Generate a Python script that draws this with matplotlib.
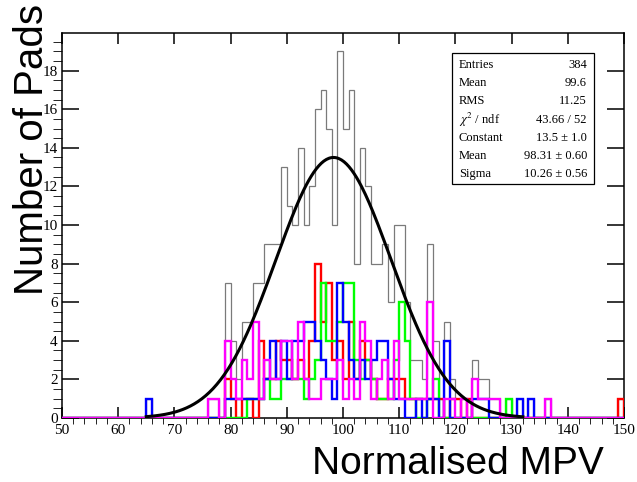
"""
Normalised MPV distribution per pad, all pads plus the four pad groups,
with the gaussian fit and a ROOT style stats box.
"""
import numpy as np
import matplotlib
matplotlib.use('Agg')
import matplotlib.pyplot as plt
from matplotlib.patches import Rectangle
from matplotlib.ticker import MultipleLocator

# unit bins, lower edges 50 .. 149
bin_lo, bin_hi = 50, 150

n_all = [0, 0, 0, 0, 0, 0, 0, 0, 0, 0,
         0, 0, 0, 0, 0, 1, 0, 0, 0, 0,
         0, 0, 0, 0, 0, 0, 1, 1, 0, 7,
         4, 2, 5, 5, 7, 7, 9, 9, 9, 13,
         11, 10, 14, 10, 12, 16, 17, 15, 10, 19,
         15, 17, 8, 14, 12, 8, 8, 9, 6, 10,
         10, 6, 3, 3, 2, 9, 4, 1, 5, 2,
         1, 1, 1, 3, 2, 2, 1, 1, 0, 1,
         0, 1, 0, 1, 0, 0, 1, 0, 0, 0,
         0, 0, 0, 0, 0, 0, 0, 0, 0, 1]

n_red = [0, 0, 0, 0, 0, 0, 0, 0, 0, 0,
         0, 0, 0, 0, 0, 0, 0, 0, 0, 0,
         0, 0, 0, 0, 0, 0, 0, 0, 0, 2,
         1, 0, 1, 1, 0, 4, 2, 2, 4, 3,
         3, 2, 3, 2, 4, 8, 5, 7, 3, 4,
         2, 5, 2, 4, 3, 2, 1, 1, 2, 2,
         2, 1, 1, 1, 1, 1, 1, 1, 0, 1,
         1, 0, 1, 0, 0, 0, 0, 0, 0, 0,
         0, 0, 0, 0, 0, 0, 0, 0, 0, 0,
         0, 0, 0, 0, 0, 0, 0, 0, 0, 1]

n_green = [0, 0, 0, 0, 0, 0, 0, 0, 0, 0,
           0, 0, 0, 0, 0, 0, 0, 0, 0, 0,
           0, 0, 0, 0, 0, 0, 0, 0, 0, 0,
           0, 0, 0, 1, 1, 1, 2, 1, 1, 2,
           2, 2, 2, 1, 2, 3, 7, 4, 4, 5,
           7, 7, 3, 2, 3, 2, 1, 1, 1, 3,
           6, 4, 1, 0, 0, 1, 2, 0, 0, 0,
           0, 0, 0, 0, 0, 0, 0, 0, 0, 1,
           0, 0, 0, 0, 0, 0, 0, 0, 0, 0,
           0, 0, 0, 0, 0, 0, 0, 0, 0, 0]

n_blue = [0, 0, 0, 0, 0, 0, 0, 0, 0, 0,
          0, 0, 0, 0, 0, 1, 0, 0, 0, 0,
          0, 0, 0, 0, 0, 0, 0, 0, 0, 1,
          1, 1, 1, 1, 1, 1, 2, 4, 2, 4,
          2, 4, 4, 5, 5, 4, 3, 2, 1, 7,
          5, 3, 2, 3, 2, 3, 4, 4, 2, 1,
          1, 0, 0, 1, 0, 1, 1, 0, 4, 0,
          0, 0, 0, 1, 1, 1, 0, 0, 0, 0,
          0, 1, 0, 1, 0, 0, 0, 0, 0, 0,
          0, 0, 0, 0, 0, 0, 0, 0, 0, 0]

n_magenta = [0, 0, 0, 0, 0, 0, 0, 0, 0, 0,
             0, 0, 0, 0, 0, 0, 0, 0, 0, 0,
             0, 0, 0, 0, 0, 0, 1, 1, 0, 4,
             2, 1, 3, 2, 5, 1, 3, 2, 2, 4,
             4, 2, 5, 2, 1, 1, 2, 2, 2, 3,
             1, 2, 1, 5, 4, 1, 2, 3, 1, 4,
             1, 1, 1, 1, 1, 6, 0, 0, 1, 1,
             0, 1, 0, 2, 1, 1, 1, 1, 0, 0,
             0, 0, 0, 0, 0, 0, 1, 0, 0, 0,
             0, 0, 0, 0, 0, 0, 0, 0, 0, 0]

# fit result and stats box rows, as printed on the plot
fit_const, fit_mean, fit_sigma = 13.5, 98.31, 10.26
fit_range = (65, 132)
stats_rows = [('Entries', '384'),
              ('Mean', '99.6'),
              ('RMS', '11.25'),
              (r'$\chi^2$ / ndf', '43.66 / 52'),
              ('Constant', '13.5 \u00b1 1.0'),
              ('Mean', '98.31 \u00b1 0.60'),
              ('Sigma', '10.26 \u00b1 0.56')]

W, H = 637, 482
SERIF = ['Liberation Serif', 'DejaVu Serif']
SANS = ['Liberation Sans', 'DejaVu Sans']


def fx(px):
    return px / W


def fy(py):
    return 1 - py / H


def main():
    plt.rcParams['mathtext.fontset'] = 'stix'
    fig = plt.figure(figsize=(W / 100, H / 100), dpi=100)
    ax = fig.add_axes([fx(62), fy(418), fx(624) - fx(62), fy(33) - fy(418)])

    edges = np.arange(bin_lo, bin_hi + 1)
    ax.stairs(n_all, edges, baseline=0, color='#7a7a7a', lw=0.9, zorder=2)
    for vals, col in [(n_red, '#ff0000'), (n_green, '#00ff00'),
                      (n_blue, '#0000ff'), (n_magenta, '#ff00ff')]:
        ax.stairs(vals, edges, baseline=0, color=col, lw=1.7, zorder=3)

    x = np.linspace(fit_range[0], fit_range[1], 300)
    ax.plot(x, fit_const * np.exp(-0.5 * ((x - fit_mean) / fit_sigma) ** 2),
            color='black', lw=2.2, zorder=4)

    ax.set_xlim(bin_lo, bin_hi)
    ax.set_ylim(0, 1.05 * max(n_all))
    ax.xaxis.set_major_locator(MultipleLocator(10))
    ax.xaxis.set_minor_locator(MultipleLocator(2))
    ax.yaxis.set_major_locator(MultipleLocator(2))
    ax.yaxis.set_minor_locator(MultipleLocator(0.5))
    ax.tick_params(direction='in', top=True, right=True, width=1.1,
                   labelsize=11)
    ax.tick_params(axis='x', which='major', length=8, pad=4)
    ax.tick_params(axis='x', which='minor', length=4)
    ax.tick_params(axis='y', which='major', length=12, pad=3)
    ax.tick_params(axis='y', which='minor', length=6.5)
    for lab in ax.get_xticklabels() + ax.get_yticklabels():
        lab.set_family(SERIF)
    for sp in ax.spines.values():
        sp.set_linewidth(1.1)

    # stats box
    fig.patches.append(Rectangle((fx(452), fy(184)), fx(594) - fx(452),
                                 fy(53) - fy(184), transform=fig.transFigure,
                                 facecolor='white', edgecolor='black',
                                 lw=0.9, zorder=5))
    for i, (k, v) in enumerate(stats_rows):
        yy = fy(65 + 18.2 * i)
        fig.text(fx(459), yy, k, ha='left', va='center', fontsize=9,
                 family=SERIF, zorder=6)
        fig.text(fx(587), yy, v, ha='right', va='center', fontsize=9,
                 family=SERIF, zorder=6)

    # axis titles, ROOT style: large, aligned to the axis ends
    fig.text(fx(43), fy(4), 'Number of Pads', rotation=90,
             rotation_mode='anchor', ha='right', va='baseline',
             fontsize=29, family=SANS, zorder=7)
    fig.text(fx(604), fy(474), 'Normalised MPV', ha='right', va='baseline',
             fontsize=28, family=SANS)

    fig.savefig('out.png', dpi=100)
    plt.close(fig)


if __name__ == '__main__':
    main()
